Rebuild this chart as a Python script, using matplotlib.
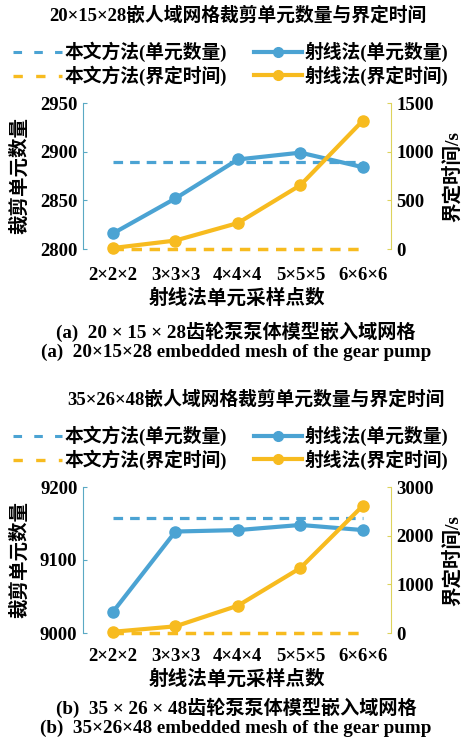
import matplotlib
matplotlib.use("Agg")
import matplotlib.pyplot as plt
from matplotlib.lines import Line2D

plt.rcParams['font.family'] = ['Liberation Serif', 'Noto Sans CJK SC']
plt.rcParams['axes.unicode_minus'] = False

# sampling points of the ray method
categories = ['2×2×2', '3×3×3', '4×4×4', '5×5×5', '6×6×6']

# panel (a) 20x15x28
a_ray_cells = [2816, 2852, 2892, 2899, 2884]
a_ray_time = [10, 87, 267, 656, 1319]
a_ours_cells = [2889, 2889, 2889, 2889, 2889]
a_ours_time = [3, 3, 3, 3, 3]

# panel (b) 35x26x48
b_ray_cells = [9029, 9139, 9141, 9148, 9141]
b_ray_time = [25, 137, 562, 1336, 2616]
b_ours_cells = [9157, 9157, 9157, 9157, 9157]
b_ours_time = [3, 3, 3, 3, 3]

blue = '#4ba3d3'
orange = '#f7bb1f'
blue_spine = '#5aa9c4'
yellow_spine = '#ddd35c'

fs = 13.5
W, H = 462, 740
fig = plt.figure(figsize=(W / 100, H / 100), dpi=100)


def px(x, y):
    return x / W, 1 - y / H


def panel(top, left_lim, left_ticks, right_lim, right_ticks,
          ray_cells, ray_time, ours_cells, ours_time, title, cap_cn, cap_en,
          title_x, xlab_dy, cap_dy):
    ax = fig.add_axes([83 / W, 1 - (top + 146) / H, 308 / W, 146 / H])
    ax2 = ax.twinx()
    x = list(range(len(categories)))

    ax.plot(x, ours_cells, '--', color=blue, lw=2.3, dashes=(3, 2.2), clip_on=False)
    ax.plot(x, ray_cells, '-o', color=blue, lw=3, ms=8, clip_on=False)
    ax2.plot(x, ours_time, '--', color=orange, lw=2.5, dashes=(3, 2.2), clip_on=False)
    ax2.plot(x, ray_time, '-o', color=orange, lw=3, ms=8, clip_on=False)
    ax2.set_zorder(ax.get_zorder() + 1)

    ax.set_xlim(-0.48, 4.45)
    ax.set_ylim(*left_lim)
    ax.set_yticks(left_ticks)
    ax2.set_ylim(*right_lim)
    ax2.set_yticks(right_ticks)
    ax.set_xticks(x)
    ax.set_xticklabels(categories)

    for a in (ax, ax2):
        for s in ('top', 'bottom'):
            a.spines[s].set_visible(False)
    ax.spines['right'].set_visible(False)
    ax2.spines['left'].set_visible(False)
    ax.spines['left'].set_color(blue_spine)
    ax2.spines['right'].set_color(yellow_spine)

    ax.tick_params(axis='y', direction='in', length=3, color=blue_spine,
                   labelsize=fs, pad=4)
    ax2.tick_params(axis='y', direction='in', length=3, color=yellow_spine,
                    labelsize=fs, pad=4)
    # pad in points so that label centres land xlab_dy px below the axes top
    ax.tick_params(axis='x', length=0, labelsize=fs,
                   pad=(xlab_dy - 146 - 9) * 0.72)
    for lab in ax.get_yticklabels() + ax2.get_yticklabels() + ax.get_xticklabels():
        lab.set_fontweight('bold')

    fig.text(*px(20, top + 73), '裁剪单元数量', fontsize=fs + 0.5, fontweight='bold',
             rotation=90, ha='center', va='center')
    fig.text(*px(452, top + 73), '界定时间/s', fontsize=fs + 0.5, fontweight='bold',
             rotation=90, ha='center', va='center')
    fig.text(*px(237, top + xlab_dy + 23), '射线法单元采样点数', fontsize=fs + 0.6,
             fontweight='bold', ha='center', va='center')

    fig.text(*px(title_x, top - 88), title, fontsize=fs, fontweight='bold',
             ha='center', va='center')

    handles = [
        Line2D([], [], color=blue, lw=2.2, ls='--', dashes=(2.8, 4.0)),
        Line2D([], [], color=orange, lw=2.4, ls='--', dashes=(2.8, 4.0)),
        Line2D([], [], color=blue, lw=3, marker='o', ms=7),
        Line2D([], [], color=orange, lw=3, marker='o', ms=7),
    ]
    labels = ['本文方法(单元数量)', '本文方法(界定时间)',
              '射线法(单元数量)', '射线法(界定时间)']
    fig.legend(handles, labels, ncol=2, frameon=False,
               prop={'size': fs, 'weight': 'bold'},
               loc='center', bbox_to_anchor=px(231, top - 39),
               handlelength=2.6, handletextpad=0.15, columnspacing=1.4,
               labelspacing=0.2, borderaxespad=0)

    fig.text(*px(236, top + cap_dy), cap_cn, fontsize=fs + 0.3, fontweight='bold',
             ha='center', va='center')
    fig.text(*px(236, top + cap_dy + 20), cap_en, fontsize=fs + 0.3, fontweight='bold',
             ha='center', va='center')


panel(103, (2800, 2950), [2800, 2850, 2900, 2950], (0, 1500), [0, 500, 1000, 1500],
      a_ray_cells, a_ray_time, a_ours_cells, a_ours_time,
      '20×15×28嵌人域网格裁剪单元数量与界定时间',
      '(a)  20 × 15 × 28齿轮泵泵体模型嵌入域网格',
      '(a)  20×15×28 embedded mesh of the gear pump', 238, 173, 229)

panel(487, (9000, 9200), [9000, 9100, 9200], (0, 3000), [0, 1000, 2000, 3000],
      b_ray_cells, b_ray_time, b_ours_cells, b_ours_time,
      '35×26×48嵌人域网格裁剪单元数量与界定时间',
      '(b)  35 × 26 × 48齿轮泵泵体模型嵌入域网格',
      '(b)  35×26×48 embedded mesh of the gear pump', 256, 170, 221)

fig.savefig('out.png', dpi=100)
